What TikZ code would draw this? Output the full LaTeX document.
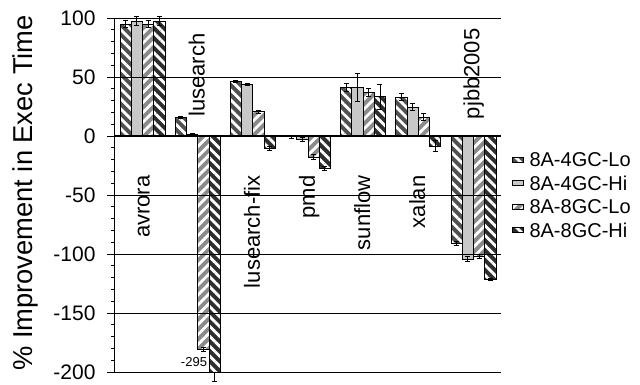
\documentclass[tikz,border=0pt]{standalone}
\usepackage{fontspec}
\setmainfont{Liberation Sans}
\usetikzlibrary{patterns.meta}
\definecolor{cA}{HTML}{505050}
\definecolor{cB}{HTML}{C8C8C8}
\definecolor{cC}{HTML}{8A8A8A}
\definecolor{cD}{HTML}{2E2E2E}
\tikzset{
  patA/.style={pattern={Lines[angle=-45,distance=7pt,line width=2.8pt]},pattern color=white},
  patC/.style={pattern={Lines[angle=45,distance=7pt,line width=2.8pt]},pattern color=white},
  barA/.style={fill=cA,postaction={patA}},
  barB/.style={fill=cB},
  barC/.style={fill=cC,postaction={patC}},
  barD/.style={fill=cD,postaction={patA}},
  outl/.style={draw=black,line width=0.8pt},
  errb/.style={draw=black,line width=0.8pt},
  gridl/.style={draw=black,line width=0.9pt},
  ticklab/.style={anchor=east,font=\fontsize{21}{25}\selectfont},
  benchlab/.style={rotate=90,anchor=base east,font=\fontsize{22}{26}\selectfont},
  leglab/.style={anchor=west,font=\fontsize{20}{24}\selectfont},
}
\newcommand\bw{11.25}
\newcommand\drawbar[4]{%
  \path[#1] (#2,0) rectangle ++(\bw,#3);
  \draw[outl] (#2,0) rectangle ++(\bw,#3);
  \draw[errb] (#2+\bw/2,#3-#4) -- (#2+\bw/2,#3+#4)
    (#2+\bw/2-2.5,#3-#4) -- ++(5,0)
    (#2+\bw/2-2.5,#3+#4) -- ++(5,0);
}
\newcommand\drawgroup[9]{%
  \drawbar{barA}{#1}{#2}{#3}
  \drawbar{barB}{#1+11.25}{#4}{#5}
  \drawbar{barC}{#1+22.5}{#6}{#7}
  \drawbar{barD}{#1+33.75}{#8}{#9}
}
\begin{document}
\begin{tikzpicture}[x=1pt,y=1pt]
\useasboundingbox (0,0) rectangle (640,384);
\begin{scope}[yshift=248pt,y=1.18pt]
  % bars
  \drawgroup{120}{95}{3}{97.5}{4}{95}{3}{97.5}{4}
  \drawgroup{175.15}{15.8}{0.6}{1.5}{0.6}{-181}{1.5}{-200}{0}
  \drawgroup{230.3}{46.3}{0.8}{43.6}{1}{20.5}{1.2}{-10.5}{2}
  \drawgroup{285.45}{-0.6}{1.5}{-2.8}{2}{-18}{2}{-27.4}{2}
  \drawgroup{340.6}{41.2}{3.5}{41}{12}{37}{3.5}{33.3}{10.5}
  \drawgroup{395.75}{32.8}{3}{24.6}{3}{15.8}{3}{-8.5}{4.5}
  \drawgroup{450.9}{-91}{1.5}{-104.2}{2}{-102.2}{1.5}{-121.5}{1}
  % clipped lusearch bar error bar
  \draw[errb] (214.525,-200) -- (214.525,-208) (212.025,-208) -- ++(5,0);
  \node[font=\fontsize{13}{15}\selectfont] (v295) at (194,-191.5) {-295};
  % grid
  \foreach \v in {-200,-150,-100,-50,50,100} \draw[gridl] (114,\v) -- (501,\v);
  \draw[line width=1.5pt] (114,0) -- (501,0);
  % axis
  \draw[line width=0.9pt] (114,-200) -- (114,100);
  \foreach \v in {-200,-190,...,100} \draw[line width=0.8pt] (114,\v) -- ++(-3.5,0);
  \foreach \v in {-200,-150,...,100} \draw[line width=0.8pt] (114,\v) -- ++(-7,0);
  \foreach \v in {-200,-150,...,100} \node[ticklab] at (99,\v) {\v};
\end{scope}
% benchmark labels
\node[benchlab] (l1) at (149.5,212) {avrora};
\node[benchlab] (l2) at (204.6,354) {lusearch};
\node[benchlab] (l3) at (259.8,212) {lusearch-fix};
\node[benchlab] (l4) at (314.9,212) {pmd};
\node[benchlab] (l5) at (370.1,212) {sunflow};
\node[benchlab] (l6) at (425.2,212) {xalan};
\node[benchlab] (l7) at (479.4,359) {pjbb2005};
% axis title
\node[rotate=90,font=\fontsize{27.3}{30}\selectfont] (title) at (25.5,191) {\% Improvement in Exec Time};
% legend
\path[barA] (512,221.5) rectangle (523,226.5); \draw[outl,line width=0.6pt] (512,221.5) rectangle (523,226.5);
\node[leglab] (e1) at (526,224) {8A-4GC-Lo};
\path[barB] (512,198.5) rectangle (523,203.5); \draw[outl,line width=0.6pt] (512,198.5) rectangle (523,203.5);
\node[leglab] (e2) at (526,201) {8A-4GC-Hi};
\path[barC] (512,174.5) rectangle (523,179.5); \draw[outl,line width=0.6pt] (512,174.5) rectangle (523,179.5);
\node[leglab] (e3) at (526,177) {8A-8GC-Lo};
\path[barD] (512,151.5) rectangle (523,156.5); \draw[outl,line width=0.6pt] (512,151.5) rectangle (523,156.5);
\node[leglab] (e4) at (526,154) {8A-8GC-Hi};
\end{tikzpicture}
\end{document}
